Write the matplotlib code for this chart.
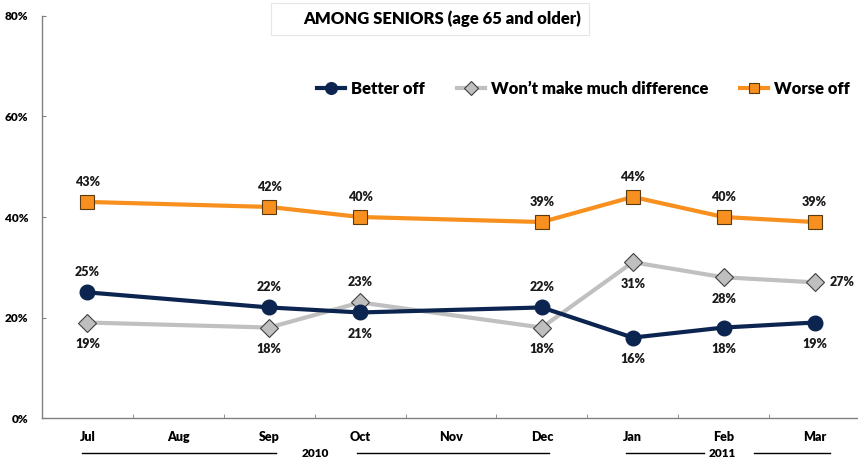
import matplotlib
matplotlib.use("Agg")
import matplotlib.pyplot as plt
import matplotlib.transforms as mtransforms
from matplotlib.patches import Rectangle

plt.rcParams["font.family"] = ["Lato", "DejaVu Sans"]
plt.rcParams["font.weight"] = "bold"

# data
months = ["Jul", "Aug", "Sep", "Oct", "Nov", "Dec", "Jan", "Feb", "Mar"]
survey_idx = [0, 2, 3, 5, 6, 7, 8]
better_off = [25, 22, 21, 22, 16, 18, 19]
no_difference = [19, 18, 23, 18, 31, 28, 27]
worse_off = [43, 42, 40, 39, 44, 40, 39]
yticks = [0, 20, 40, 60, 80]

# where each data label goes: a = above, b = below, r = right
better_pos = ["a", "a", "b", "a", "b", "b", "b"]
nodiff_pos = ["b", "b", "a", "b", "b", "b", "r"]
worse_pos = ["a"] * 7

NAVY = "#0c2550"
GRAY = "#c0c0c0"
ORANGE = "#f7901e"
LABEL_W = "heavy"

fig = plt.figure(figsize=(8.58, 4.61), dpi=100)
ax = fig.add_axes([42 / 858, 1 - 418 / 461, 818 / 858, 402 / 461])

ax.plot(survey_idx, no_difference, color=GRAY, lw=3, marker="D", ms=9.5,
        mfc="#bfbfbf", mec="#404040", mew=0.8, label="Won\u2019t make much difference", zorder=3)
ax.plot(survey_idx, better_off, color=NAVY, lw=3, marker="o", ms=10.5,
        mfc=NAVY, mec=NAVY, label="Better off", zorder=4)
ax.plot(survey_idx, worse_off, color=ORANGE, lw=3, marker="s", ms=9.5,
        mfc=ORANGE, mec="#5a3a10", mew=0.8, label="Worse off", zorder=3)


def put_labels(vals, where):
    for x, v, w in zip(survey_idx, vals, where):
        if w == "a":
            off = (0, 14.4)
        elif w == "b":
            off = (0, -15.5)
        else:
            off = (19.5, 0)
        ax.annotate(f"{v}%", (x, v), xytext=off, textcoords="offset points",
                    ha="center", va="center", fontsize=9, fontweight=LABEL_W, color="#1a1a1a")


put_labels(better_off, better_pos)
put_labels(no_difference, nodiff_pos)
put_labels(worse_off, worse_pos)

ax.set_xlim(-0.5, len(months) - 0.5)
ax.set_ylim(0, 80)
ax.set_yticks(yticks)
ax.set_yticklabels([f"{t}%" for t in yticks], fontsize=8.5, fontweight=LABEL_W)
ax.set_xticks(range(len(months)))
ax.set_xticklabels(months, fontsize=9, fontweight=LABEL_W)
ax.set_xticks([i + 0.5 for i in range(len(months) - 1)], minor=True)
ax.tick_params(axis="x", which="major", length=0, pad=9)
ax.tick_params(axis="x", which="minor", length=3, direction="in", color="#808080")
ax.tick_params(axis="y", length=3, direction="in", color="#808080", pad=10)
for s in ["top", "right"]:
    ax.spines[s].set_visible(False)
for s in ["left", "bottom"]:
    ax.spines[s].set_color("#808080")
    ax.spines[s].set_linewidth(1)

# year brackets under the month labels
trans = mtransforms.blended_transform_factory(ax.transData, ax.transAxes)
yy = -35 / 402
for x0, x1 in [(-0.055, 2.07), (2.97, 5.08), (5.93, 6.78), (7.33, 8.17)]:
    ax.plot([x0, x1], [yy, yy], color="black", lw=1, transform=trans, clip_on=False)
ax.text(2.51, yy, "2010", transform=trans, ha="center", va="center", fontsize=8.5, fontweight=LABEL_W)
ax.text(6.99, yy, "2011", transform=trans, ha="center", va="center", fontsize=8.5, fontweight=LABEL_W)

# title box
fig.patches.append(Rectangle((271 / 858, 1 - 35 / 461), 318 / 858, 32 / 461,
                             transform=fig.transFigure, fill=False, ec="#e6e6e6", lw=0.8))
fig.text(442 / 858, 1 - 19 / 461, "AMONG SENIORS (age 65 and older)", ha="center", va="center",
         fontsize=12, fontweight=LABEL_W)

handles, labels = ax.get_legend_handles_labels()
order = [1, 0, 2]
fig.legend([handles[i] for i in order], [labels[i] for i in order], loc="center left",
           bbox_to_anchor=(317 / 858, 1 - 89 / 461), ncol=3, frameon=False,
           prop={"size": 12, "weight": LABEL_W}, handlelength=1.7, handletextpad=0.35,
           columnspacing=1.9, borderpad=0, borderaxespad=0, markerscale=0.8)

fig.savefig("out.png", dpi=100)
